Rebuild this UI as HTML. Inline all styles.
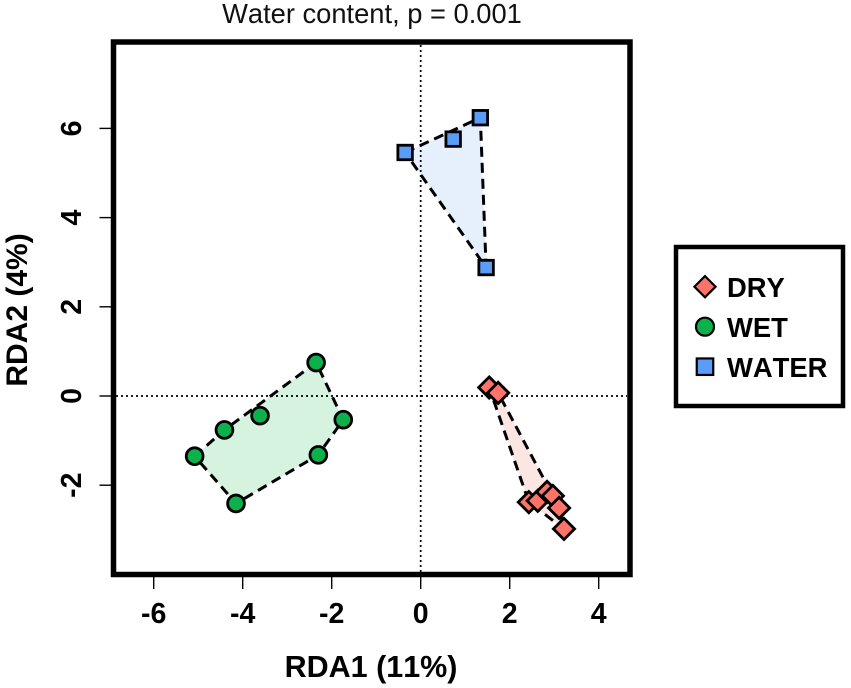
<!DOCTYPE html>
<html>
<head>
<meta charset="utf-8">
<style>
html,body{margin:0;padding:0;background:#fff;}
svg{display:block;font-family:"Liberation Sans",sans-serif;font-kerning:none;}
</style>
</head>
<body>
<svg id="chart" width="851" height="688" viewBox="0 0 851 688" xmlns="http://www.w3.org/2000/svg">
<rect width="851" height="688" fill="#fff"/>
<text x="372" y="23" font-size="27.3" text-anchor="middle" fill="#111">Water content, p = 0.001</text>
<text x="371" y="677" font-size="30.5" font-weight="bold" text-anchor="middle" fill="#000">RDA1 (11%)</text>
<text transform="translate(27,310) rotate(-90)" font-size="30" font-weight="bold" text-anchor="middle" fill="#000">RDA2 (4%)</text>
<g id="plot"></g>
<rect x="113.5" y="42" width="516.5" height="532.5" fill="none" stroke="#000" stroke-width="5.5"/>
<g id="axes"></g>
<g>
<rect x="676" y="247" width="167" height="159" fill="#fff" stroke="#000" stroke-width="4.5"/>
<g id="legend-items"></g>
</g>
</svg>
<script>
var xTicks = [-6, -4, -2, 0, 2, 4];
var yTicks = [-2, 0, 2, 4, 6];
var groupNames = ['DRY', 'WET', 'WATER'];
var dryX = [1.54, 1.74, 2.43, 2.63, 2.84, 2.97, 3.11, 3.22];
var dryY = [0.19, 0.07, -2.38, -2.35, -2.15, -2.24, -2.51, -2.98];
var wetX = [-2.35, -1.74, -2.30, -4.15, -5.08, -4.41, -3.61];
var wetY = [0.75, -0.53, -1.32, -2.41, -1.35, -0.76, -0.44];
var waterX = [1.34, -0.35, 0.73, 1.47];
var waterY = [6.24, 5.46, 5.76, 2.88];

var NS = 'http://www.w3.org/2000/svg';
function sx(v) { return 420.7 + v * 44.5; }
function sy(v) { return 396 + -v * 44.6; }
function make(tag, attrs, parent) {
  var el = document.createElementNS(NS, tag);
  for (var k in attrs) el.setAttribute(k, attrs[k]);
  parent.appendChild(el);
  return el;
}
function hull(pts) {
  var p = pts.slice().sort(function (a, b) { return a[0] - b[0] || a[1] - b[1]; });
  function cross(o, a, b) { return (a[0] - o[0]) * (b[1] - o[1]) - (a[1] - o[1]) * (b[0] - o[0]); }
  var lower = [], upper = [], i;
  for (i = 0; i < p.length; i++) {
    while (lower.length > 1 && cross(lower[lower.length - 2], lower[lower.length - 1], p[i]) <= 0) lower.pop();
    lower.push(p[i]);
  }
  for (i = p.length - 1; i >= 0; i--) {
    while (upper.length > 1 && cross(upper[upper.length - 2], upper[upper.length - 1], p[i]) <= 0) upper.pop();
    upper.push(p[i]);
  }
  lower.pop();
  upper.pop();
  return lower.concat(upper);
}
function marker(kind, cx, cy, parent, strokeWidth, circleR, squareSide) {
  var el;
  if (kind === 'DRY') {
    var d = 10.6;
    el = make('polygon', {
      points: cx + ',' + (cy - d) + ' ' + (cx + d) + ',' + cy + ' ' + cx + ',' + (cy + d) + ' ' + (cx - d) + ',' + cy,
      fill: '#FB7369', stroke: '#000', 'stroke-width': strokeWidth, 'stroke-linejoin': 'miter'
    }, parent);
  } else if (kind === 'WET') {
    el = make('circle', { cx: cx, cy: cy, r: circleR, fill: '#0DB14B', stroke: '#000', 'stroke-width': strokeWidth }, parent);
  } else {
    el = make('rect', { x: cx - squareSide / 2, y: cy - squareSide / 2, width: squareSide, height: squareSide, fill: '#5B9CF6', stroke: '#000', 'stroke-width': strokeWidth }, parent);
  }
  return el;
}

var plot = document.getElementById('plot');
var axes = document.getElementById('axes');
var legendItems = document.getElementById('legend-items');
var xs = [dryX, wetX, waterX];
var ys = [dryY, wetY, waterY];
var fills = ['#FCE6E4', '#D6F3DF', '#E6EFFC'];

var ptsByGroup = xs.map(function (col, g) {
  return col.map(function (v, i) { return [sx(v), sy(ys[g][i])]; });
});
var hulls = ptsByGroup.map(hull);

hulls.forEach(function (h, g) {
  var pg = make('polygon', { points: h.map(function (p) { return p.join(','); }).join(' '), fill: fills[g], stroke: 'none' }, plot);
  
  
});

var hz = make('line', { x1: 116, x2: 627, y1: sy(0), y2: sy(0), stroke: '#000', 'stroke-width': 1.7, 'stroke-dasharray': '2 3' }, plot);


var vt = make('line', { x1: sx(0), x2: sx(0), y1: 45, y2: 572, stroke: '#000', 'stroke-width': 1.7, 'stroke-dasharray': '2 3' }, plot);



hulls.forEach(function (h, g) {
  var ol = make('polygon', { points: h.map(function (p) { return p.join(','); }).join(' '), fill: 'none', stroke: '#000', 'stroke-width': 3, 'stroke-dasharray': '10 6' }, plot);
  
  
});

ptsByGroup.forEach(function (pts, g) {
  pts.forEach(function (p) {
    var m = marker(groupNames[g], p[0], p[1], plot, 2.8, 8.4, 14.5);
    
    
  });
});

xTicks.forEach(function (t) {
  var l = make('line', { x1: sx(t), x2: sx(t), y1: 577, y2: 589, stroke: '#000', 'stroke-width': 1.4 }, axes);
  
  
  var tx = make('text', { x: sx(t), y: 623, 'font-size': 28.5, 'font-weight': 'bold', 'text-anchor': 'middle', fill: '#000' }, axes);
  tx.textContent = String(t);
  
  
});
yTicks.forEach(function (t) {
  var l = make('line', { x1: 99.5, x2: 111, y1: sy(t), y2: sy(t), stroke: '#000', 'stroke-width': 1.4 }, axes);
  
  
  var tx = make('text', { transform: 'translate(81,' + sy(t) + ') rotate(-90)', 'font-size': 28.5, 'font-weight': 'bold', 'text-anchor': 'middle', fill: '#000' }, axes);
  tx.textContent = String(t);
  
  
});

groupNames.forEach(function (name, i) {
  var cy = 286.7 + i * 40;
  var m = marker(name, 705, cy, legendItems, 2.2, 9, 16.5);
  
  
  var tx = make('text', { x: 727, y: cy + 10.3, 'font-size': 27.4, 'font-weight': 'bold', fill: '#000' }, legendItems);
  tx.textContent = name;
  
  
});
</script>
</body>
</html>
